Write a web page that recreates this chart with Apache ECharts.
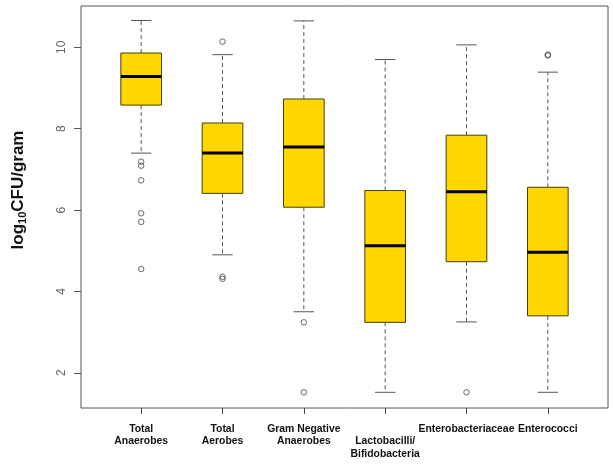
<!DOCTYPE html>
<html>
<head>
<meta charset="utf-8">
<script src="https://cdn.jsdelivr.net/npm/echarts@6/dist/echarts.min.js"></script>
<style>html,body{margin:0;padding:0;background:#fff}#c{width:613px;height:464px}</style>
</head>
<body>
<div id="c"></div>
<script>
var categories = ['Total\nAnaerobes', 'Total\nAerobes', 'Gram Negative\nAnaerobes', '\nLactobacilli/\nBifidobacteria', 'Enterobacteriaceae', 'Enterococci'];
var lowerWhisker = [7.40, 4.90, 3.50, 1.52, 3.25, 1.52];
var q1 = [8.58, 6.41, 6.07, 3.24, 4.73, 3.40];
var median = [9.28, 7.40, 7.55, 5.12, 6.45, 4.96];
var q3 = [9.86, 8.14, 8.73, 6.48, 7.84, 6.56];
var upperWhisker = [10.66, 9.82, 10.65, 9.70, 10.06, 9.39];
var outliers = [
  [7.19, 7.09, 6.73, 5.92, 5.71, 4.55],
  [10.14, 4.36, 4.31],
  [3.24, 1.52],
  [],
  [1.52],
  [9.80, 9.82]
];
var yTicks = [2, 4, 6, 8, 10];
var xTicks = [1, 2, 3, 4, 5, 6];

var boxData = categories.map(function (c, i) {
  return [i + 1, lowerWhisker[i], q1[i], median[i], q3[i], upperWhisker[i]];
});
var outlierData = [];
outliers.forEach(function (arr, i) {
  arr.forEach(function (v) { outlierData.push([i + 1, v]); });
});

var chart = echarts.init(document.getElementById('c'));
chart.setOption({
  backgroundColor: '#fff',
  animation: false,
  grid: { left: 81, top: 6, right: 5, bottom: 56, show: true, borderColor: '#555', borderWidth: 1, backgroundColor: 'transparent' },
  xAxis: {
    type: 'value', min: 0.26, max: 6.74,
    splitLine: { show: false },
    axisLine: { show: false },
    axisTick: { show: true, length: 6, lineStyle: { color: '#444' }, customValues: xTicks },
    axisLabel: {
      customValues: xTicks, hideOverlap: false, showMinLabel: true, showMaxLabel: true,
      formatter: function (v) { return categories[Math.round(v) - 1]; },
      fontFamily: 'Liberation Sans, Arial', fontWeight: 'bold', fontSize: 10.4, lineHeight: 12.4,
      color: '#111', margin: 15, align: 'center'
    }
  },
  yAxis: {
    type: 'value', min: 1.134, max: 11.016,
    splitLine: { show: false },
    axisLine: { show: false },
    axisTick: { show: true, length: 7, lineStyle: { color: '#555' }, customValues: yTicks },
    axisLabel: {
      customValues: yTicks, rotate: 90, margin: 13,
      fontFamily: 'Liberation Sans, Arial', fontSize: 12, color: '#666'
    }
  },
  graphic: [{
    type: 'text', x: 18, y: 190, rotation: Math.PI / 2,
    style: {
      text: '{a|log}{s|10}{a|CFU/gram}',
      align: 'center', verticalAlign: 'middle',
      rich: {
        a: { fontFamily: 'Liberation Sans, Arial', fontWeight: 'bold', fontSize: 17, fill: '#111', lineHeight: 20, verticalAlign: 'middle' },
        s: { fontFamily: 'Liberation Sans, Arial', fontWeight: 'bold', fontSize: 11, fill: '#111', lineHeight: 20, verticalAlign: 'bottom', padding: [6, 0, 0, 0] }
      }
    }
  }],
  series: [{
    type: 'custom',
    data: boxData,
    encode: { x: 0, y: [1, 2, 3, 4, 5] },
    renderItem: function (params, api) {
      var x = api.value(0);
      var pLow = api.coord([x, api.value(1)]);
      var pQ1 = api.coord([x, api.value(2)]);
      var pMed = api.coord([x, api.value(3)]);
      var pQ3 = api.coord([x, api.value(4)]);
      var pHigh = api.coord([x, api.value(5)]);
      var bw = api.size([0.5, 0])[0];
      var cw = api.size([0.25, 0])[0];
      var cx = pMed[0];
      var dash = { stroke: '#555', lineWidth: 1, lineDash: [4, 3] };
      var solid = { stroke: '#555', lineWidth: 1 };
      return {
        type: 'group',
        children: [
          { type: 'line', shape: { x1: cx, y1: pQ3[1], x2: cx, y2: pHigh[1] }, style: dash },
          { type: 'line', shape: { x1: cx, y1: pQ1[1], x2: cx, y2: pLow[1] }, style: dash },
          { type: 'line', shape: { x1: cx - cw / 2, y1: pHigh[1], x2: cx + cw / 2, y2: pHigh[1] }, style: solid },
          { type: 'line', shape: { x1: cx - cw / 2, y1: pLow[1], x2: cx + cw / 2, y2: pLow[1] }, style: solid },
          { type: 'rect', shape: { x: cx - bw / 2, y: pQ3[1], width: bw, height: pQ1[1] - pQ3[1] }, style: { fill: '#FFD700', stroke: '#4a3f00', lineWidth: 1 } },
          { type: 'line', shape: { x1: cx - bw / 2, y1: pMed[1], x2: cx + bw / 2, y2: pMed[1] }, style: { stroke: '#000', lineWidth: 3 } }
        ]
      };
    }
  }, {
    type: 'scatter',
    data: outlierData,
    symbol: 'circle', symbolSize: 5.5,
    itemStyle: { color: 'transparent', borderColor: '#444', borderWidth: 1 }
  }]
});
</script>
</body>
</html>
